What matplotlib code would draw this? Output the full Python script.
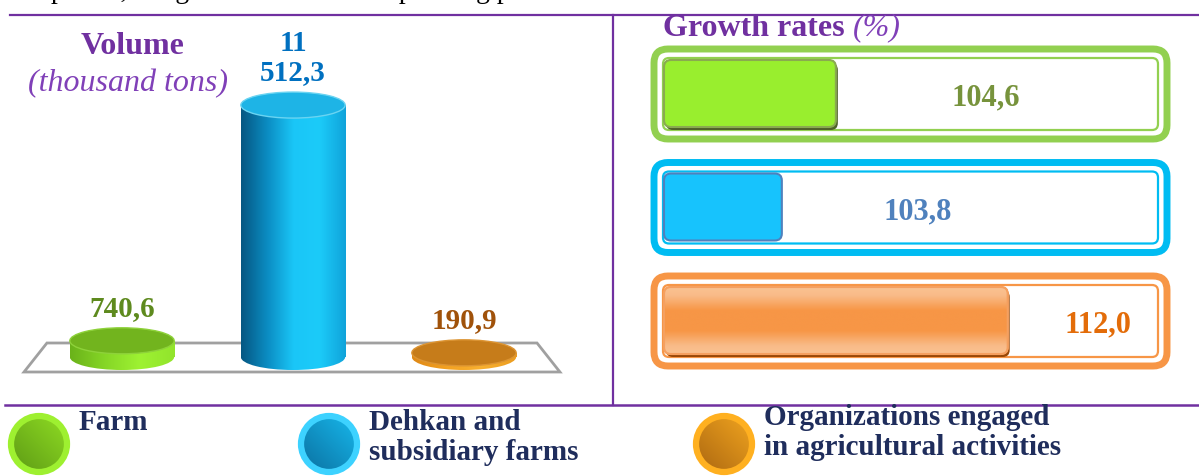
import numpy as np
import matplotlib.pyplot as plt
from matplotlib.patches import Ellipse, Rectangle, FancyBboxPatch, Circle, Polygon
from matplotlib.colors import LinearSegmentedColormap

W, H = 1199, 476
DPI = 100

# data
categories = ["Farm", "Dehkan and\nsubsidiary farms", "Organizations engaged\nin agricultural activities"]
volume = [740.6, 11512.3, 190.9]      # thousand tons
growth = [104.6, 103.8, 112.0]        # %
gauge_fill = [0.35, 0.24, 0.70]       # share of each gauge that is filled

plt.rcParams['font.family'] = ['Liberation Serif', 'DejaVu Serif']

PURPLE = '#7030a0'
cyl_side = [['#6ab21a', '#86d626', '#9ef232', '#92e42c'],
            ['#065782', '#0b8cc2', '#1ac6f7', '#1ccbf9', '#10a3da'],
            ['#de8816', '#f3a222', '#f8b030', '#eb9c20']]
cyl_top = ['#72b41e', '#1eb4e6', '#c67c1a']
cyl_top_edge = ['#8ed23a', '#6ad4f2', '#dc9432']
label_col = ['#5e8a1e', '#0070c0', '#a0520a']

gauge_col = ['#92d050', '#00bcf2', '#f79646']
fill_col = ['#99ee2e', '#17c3fd', '#f79646']
fill_edge = ['#8aaa50', '#4f81bd', '#f5a060']
shadow_col = ['#4f6228', None, '#984807']
value_col = ['#77933c', '#4f81bd', '#e36c09']
value_x = [986, 918, 1098]

leg_rim = ['#9ef030', '#3dd2ff', '#ffb020']
leg_grad = [['#5a9614', '#92e024'], ['#0a6c9c', '#18bcf0'], ['#a86410', '#f5a820']]
leg_x = [39, 329, 724]


def box(x0, y0, x1, y1):
    return [x0 / W, 1 - y1 / H, (x1 - x0) / W, (y1 - y0) / H]


def fmt(v):
    ip = int(v)
    dec = int(round((v - ip) * 10))
    if ip >= 1000:
        return f"{ip // 1000}\n{ip % 1000:03d},{dec}"
    return f"{ip},{dec}"


fig = plt.figure(figsize=(W / DPI, H / DPI), dpi=DPI)

# overlay in pixel coordinates
ax0 = fig.add_axes([0, 0, 1, 1])
ax0.set_xlim(0, W)
ax0.set_ylim(H, 0)
ax0.axis('off')

# left panel: cylinders
ax1 = fig.add_axes(box(0, 20, 610, 400))
ax1.axis('off')
xlim = (-122 / 171, (610 - 122) / 171)
ylim = (-1965, 15400)
px = (ylim[1] - ylim[0]) / 380.0   # value units per pixel
cw = 0.61
eh = 26 * px

ax1.add_patch(Polygon([(-0.573, -15 * px), (2.561, -15 * px), (2.427, 14 * px), (-0.439, 14 * px)],
                      closed=True, fill=False, ec='#a0a0a0', lw=2, zorder=1))

grad = np.linspace(0, 1, 256).reshape(1, -1)
for i, v in enumerate(volume):
    cmap = LinearSegmentedColormap.from_list('c%d' % i, cyl_side[i])
    rect = Rectangle((i - cw / 2, 0), cw, v, transform=ax1.transData)
    im = ax1.imshow(grad, cmap=cmap, extent=[i - cw / 2, i + cw / 2, 0, v], aspect='auto', zorder=2)
    im.set_clip_path(rect)
    bot = Ellipse((i, 0), cw, eh, transform=ax1.transData)
    im2 = ax1.imshow(grad, cmap=cmap, extent=[i - cw / 2, i + cw / 2, -eh / 2, 0], aspect='auto', zorder=2)
    im2.set_clip_path(bot)
    ax1.add_patch(Ellipse((i, v), cw, eh, fc=cyl_top[i], ec=cyl_top_edge[i], lw=1, zorder=3))
    ax1.text(i, v + eh / 2 + 6 * px, fmt(v), ha='center', va='bottom', fontsize=21,
             fontweight='bold', color=label_col[i], linespacing=1.12, zorder=4)
ax1.set_xlim(*xlim)
ax1.set_ylim(*ylim)

ax0.text(133, 47, "Volume", ha='center', va='center', fontsize=23, fontweight='bold', color=PURPLE)
ax0.text(128, 84, "(thousand tons)", ha='center', va='center', fontsize=23, style='italic', color='#8040b8')

# frame lines
ax0.plot([10, W], [15, 15], color=PURPLE, lw=1.6)
ax0.plot([613, 613], [15, 405], color=PURPLE, lw=1.6)
ax0.plot([5, W], [405, 405], color=PURPLE, lw=1.8)

ax0.text(20, -2, "Republic, the growth of the corresponding period of 2023 was at the level.",
         ha='left', va='baseline', fontsize=20, color='black')

# right panel: growth gauges
t = ax0.text(663, 28, "Growth rates ", ha='left', va='center', fontsize=23, fontweight='bold', color=PURPLE)
ax0.annotate("(%)", xy=(1, 0.5), xycoords=t, ha='left', va='center', fontsize=23,
             style='italic', color='#8040b8')

gx0, gx1 = 654, 1167
gy0, gstep = 94, 113.5
track = (gx1 - 11) - (gx0 + 11)
vgrad = np.repeat(np.abs(np.linspace(-1, 1, 128)).reshape(-1, 1), 8, axis=1)
og_cmap = LinearSegmentedColormap.from_list(
    'og', [(0, '#f79646'), (0.3, '#f79646'), (0.75, '#f9bb88'), (1, '#fac291')])
for i, g in enumerate(growth):
    yc = gy0 + i * gstep
    ax0.add_patch(FancyBboxPatch((gx0, yc - 45), gx1 - gx0, 90, boxstyle="round,pad=0,rounding_size=14",
                                 fc='white', ec=gauge_col[i], lw=5, zorder=2))
    ax0.add_patch(FancyBboxPatch((gx0 + 9, yc - 36), gx1 - gx0 - 18, 72, boxstyle="round,pad=0,rounding_size=6",
                                 fc='none', ec=gauge_col[i], lw=1.6, zorder=3))
    fw = gauge_fill[i] * track
    if shadow_col[i]:
        ax0.add_patch(FancyBboxPatch((gx0 + 12, yc - 31), fw, 67, boxstyle="round,pad=0,rounding_size=7",
                                     fc=shadow_col[i], ec='none', zorder=4))
    bar = FancyBboxPatch((gx0 + 10, yc - 34), fw, 67, boxstyle="round,pad=0,rounding_size=7",
                         fc=fill_col[i], ec=fill_edge[i], lw=1.5, zorder=5)
    ax0.add_patch(bar)
    if i == 2:
        im = ax0.imshow(vgrad, cmap=og_cmap, extent=[gx0 + 10, gx0 + 10 + fw, yc + 33, yc - 34],
                        aspect='auto', interpolation='antialiased', zorder=5.5)
        im.set_clip_path(bar)
        ax0.add_patch(FancyBboxPatch((gx0 + 10, yc - 34), fw, 67, boxstyle="round,pad=0,rounding_size=7",
                                     fc='none', ec=fill_edge[i], lw=1.5, zorder=5.6))
    ax0.text(value_x[i], yc + 4, f"{g:.1f}".replace('.', ','), ha='center', va='center',
             fontsize=22, fontweight='bold', color=value_col[i], zorder=6)

# legend
N = 64
jj, ii = np.meshgrid(np.arange(N), np.arange(N))
dg = (jj + (N - 1 - ii)) / (2 * N - 2)
for i, name in enumerate(categories):
    cx, cy, r = leg_x[i], 444, 31
    cm = LinearSegmentedColormap.from_list('l%d' % i, leg_grad[i])
    clip = Circle((cx, cy), r - 3, transform=ax0.transData)
    im = ax0.imshow(dg, cmap=cm, extent=[cx - r, cx + r, cy + r, cy - r], aspect='auto',
                    interpolation='bilinear', zorder=2)
    im.set_clip_path(clip)
    ax0.add_patch(Circle((cx, cy), r - 3, fc='none', ec=leg_rim[i], lw=4.5, zorder=3))
    ty = 404 if i == 2 else 409
    ax0.text(cx + 40, ty, name, ha='left', va='top', fontsize=21, fontweight='bold',
             color='#1f2d5c', linespacing=1.12)

ax0.set_xlim(0, W)
ax0.set_ylim(H, 0)

fig.savefig('out.png', dpi=DPI)
